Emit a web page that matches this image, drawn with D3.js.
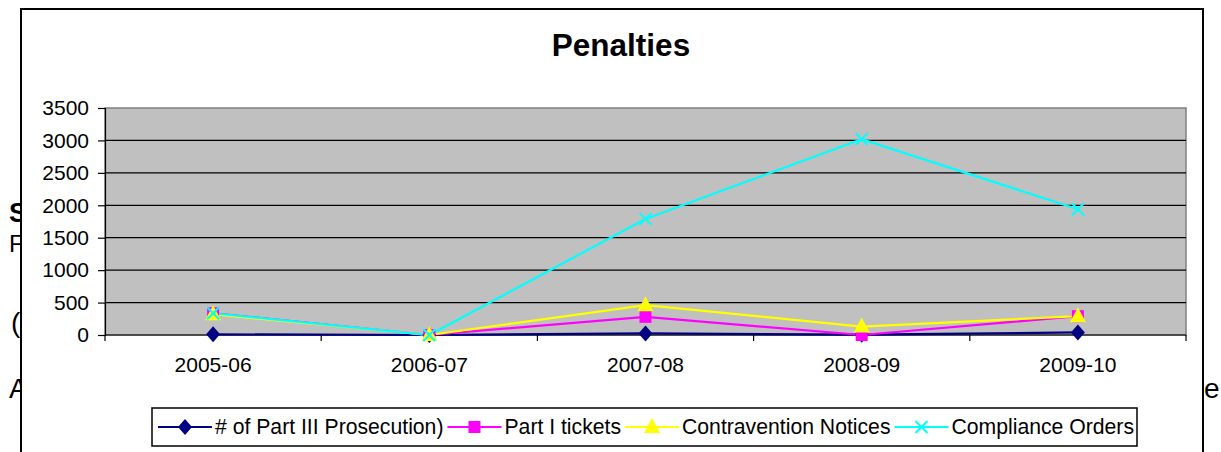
<!DOCTYPE html>
<html>
<head>
<meta charset="utf-8">
<script src="https://cdn.jsdelivr.net/npm/d3@7"></script>
<style>
  html, body { margin: 0; padding: 0; background: #fff; }
  svg { display: block; font-family: "Liberation Sans", Arial, sans-serif; }
</style>
</head>
<body>
<svg id="chart" width="1221" height="452"></svg>
<script>
// chart data
var years = ['2005-06', '2006-07', '2007-08', '2008-09', '2009-10'];
var prosecution = [10, 0, 25, 5, 40];
var tickets = [335, 0, 280, 0, 290];
var notices = [320, 0, 460, 130, 290];
var orders = [335, 0, 1790, 3020, 1940];
var yTicks = [0, 500, 1000, 1500, 2000, 2500, 3000, 3500];

var series = [
  {name: '# of Part III Prosecution)', values: prosecution, color: '#000080', marker: 'diamond'},
  {name: 'Part I tickets', values: tickets, color: '#FF00FF', marker: 'square'},
  {name: 'Contravention Notices', values: notices, color: '#FFFF00', marker: 'triangle'},
  {name: 'Compliance Orders', values: orders, color: '#00FFFF', marker: 'cross'}
];

var svg = d3.select('#chart');

// bits of the document text showing past the chart frame
var page = svg.append('g').attr('fill', '#000');
page.append('text').attr('x', 9).attr('y', 222).attr('font-size', 27).attr('font-weight', 'bold').text('S');
page.append('text').attr('x', 9).attr('y', 252).attr('font-size', 24).text('F');
page.append('text').attr('x', 11).attr('y', 332).attr('font-size', 28).text('(');
page.append('text').attr('x', 9).attr('y', 398).attr('font-size', 28).text('A');
page.append('text').attr('x', 1204).attr('y', 398).attr('font-size', 28).text('e');
page.append('text').attr('x', 11).attr('y', 472).attr('font-size', 28).text('l');

// chart frame
svg.append('rect')
  .attr('x', 21).attr('y', 9).attr('width', 1182).attr('height', 460)
  .attr('fill', '#fff').attr('stroke', '#000').attr('stroke-width', 2);

svg.append('text')
  .attr('x', 621).attr('y', 56)
  .attr('text-anchor', 'middle')
  .attr('font-size', 31.5).attr('font-weight', 'bold')
  .text('Penalties');

var plot = {left: 105, right: 1186, top: 108, bottom: 335};

var x = d3.scaleBand().domain(years).range([plot.left, plot.right]);
var y = d3.scaleLinear().domain([0, 3500]).range([plot.bottom, plot.top]);

svg.append('rect')
  .attr('x', plot.left).attr('y', plot.top)
  .attr('width', plot.right - plot.left).attr('height', plot.bottom - plot.top)
  .attr('fill', '#C0C0C0').attr('stroke', '#808080').attr('stroke-width', 1.5);

svg.append('g').selectAll('line')
  .data(yTicks.filter(function (d) { return d > 0 && d < 3500; }))
  .enter().append('line')
    .attr('x1', plot.left).attr('x2', plot.right)
    .attr('y1', function (d) { return y(d); })
    .attr('y2', function (d) { return y(d); })
    .attr('stroke', '#000').attr('stroke-width', 1.2);

// axes
var yAxis = svg.append('g')
  .attr('transform', 'translate(' + plot.left + ',0)')
  .call(d3.axisLeft(y).tickValues(yTicks).tickSize(7).tickPadding(9).tickFormat(d3.format('d')));

var xAxis = svg.append('g')
  .attr('transform', 'translate(0,' + plot.bottom + ')')
  .call(d3.axisBottom(x).tickSize(0).tickPadding(22));

// category boundary ticks
var bounds = years.map(function (d) { return x(d); }).concat([plot.right]);
xAxis.selectAll('.bound').data(bounds).enter().append('line')
  .attr('class', 'bound')
  .attr('x1', function (d) { return d; }).attr('x2', function (d) { return d; })
  .attr('y1', 0).attr('y2', 6)
  .attr('stroke', '#000').attr('stroke-width', 1.2);

[yAxis, xAxis].forEach(function (g) {
  g.select('.domain').attr('stroke', '#000').attr('stroke-width', 1.2);
  g.selectAll('.tick line').attr('stroke', '#000').attr('stroke-width', 1.2);
  g.selectAll('text').attr('font-size', 21).attr('fill', '#000')
    .attr('font-family', '"Liberation Sans", Arial, sans-serif');
});
xAxis.select('.domain').attr('d', 'M' + plot.left + ',0H' + plot.right);

function drawMarker(g, type, color) {
  if (type === 'diamond') {
    g.append('path').attr('d', 'M0,-8L7,0L0,8L-7,0Z').attr('fill', color);
  } else if (type === 'square') {
    g.append('rect').attr('x', -6).attr('y', -6).attr('width', 12).attr('height', 12).attr('fill', color);
  } else if (type === 'triangle') {
    g.append('path').attr('d', 'M0,-9L8,6L-8,6Z').attr('fill', color);
  } else {
    g.append('path').attr('d', 'M-6,-6L6,6M-6,6L6,-6').attr('stroke', color).attr('stroke-width', 2).attr('fill', 'none');
  }
}

var line = d3.line()
  .x(function (d, i) { return x(years[i]) + x.bandwidth() / 2; })
  .y(function (d) { return y(d); });

series.forEach(function (s) {
  svg.append('path')
    .attr('d', line(s.values))
    .attr('fill', 'none').attr('stroke', s.color).attr('stroke-width', 2.2);
});
series.forEach(function (s) {
  s.values.forEach(function (v, i) {
    var g = svg.append('g')
      .attr('transform', 'translate(' + (x(years[i]) + x.bandwidth() / 2) + ',' + y(v) + ')');
    drawMarker(g, s.marker, s.color);
  });
});

// legend
var legend = svg.append('g');
legend.append('rect')
  .attr('x', 152).attr('y', 408).attr('width', 985).attr('height', 38)
  .attr('fill', '#fff').attr('stroke', '#000').attr('stroke-width', 1.5);

var lx = 158;
series.forEach(function (s) {
  var g = legend.append('g').attr('transform', 'translate(' + lx + ',427)');
  g.append('line').attr('x1', 0).attr('x2', 54).attr('y1', 0).attr('y2', 0)
    .attr('stroke', s.color).attr('stroke-width', 2.2);
  drawMarker(g.append('g').attr('transform', 'translate(27,0)'), s.marker, s.color);
  var t = g.append('text').attr('x', 57).attr('y', 7).attr('font-size', 21.2).text(s.name);
  lx += 57 + t.node().getComputedTextLength() + 4;
});
</script>
</body>
</html>
